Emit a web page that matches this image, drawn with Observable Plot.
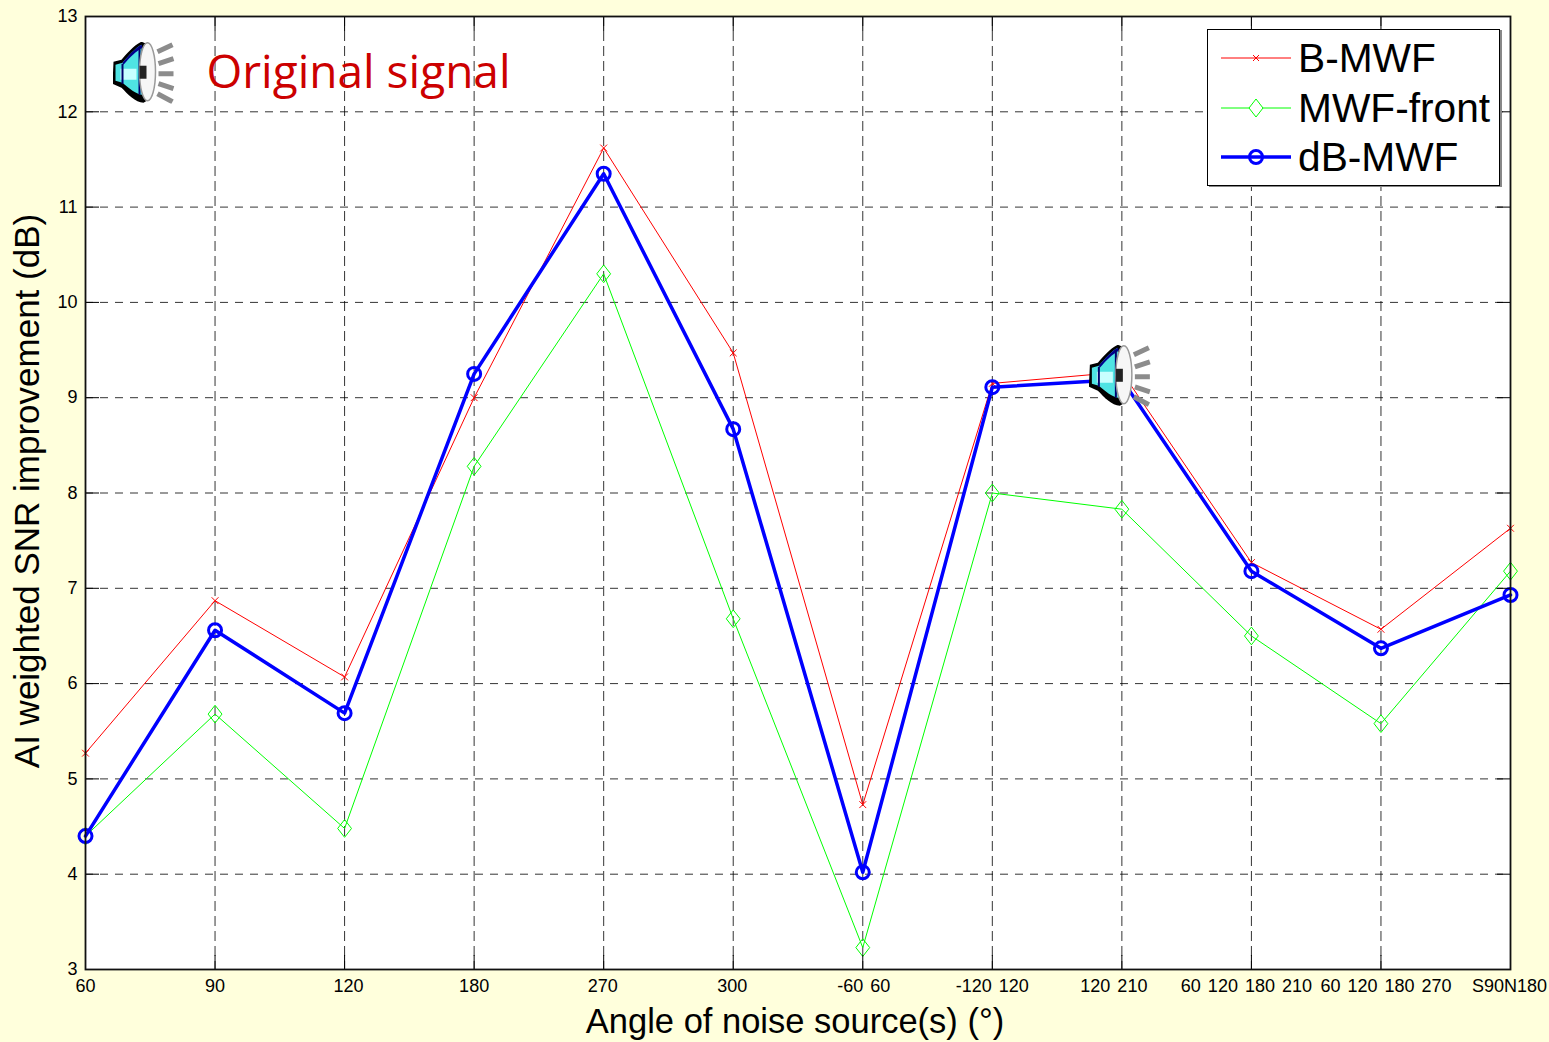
<!DOCTYPE html>
<html><head><meta charset="utf-8">
<script src="https://cdn.jsdelivr.net/npm/d3@7"></script>
<script src="https://cdn.jsdelivr.net/npm/@observablehq/plot@0.6"></script>
<style>
html,body{margin:0;padding:0;background:#ffffdc;width:1549px;height:1042px;overflow:hidden}
#wrap{position:relative;width:1549px;height:1042px}
#legend{position:absolute;left:1207px;top:29px;width:291px;height:155px;background:#fff;border:1.5px solid #000;box-shadow:2px 1px 0 #888;font-family:"Liberation Sans",Arial,sans-serif;font-size:40.7px;color:#000}
#legend .row{position:absolute;left:0;height:48px;display:flex;align-items:center}
#legend svg{display:block;margin-left:13px;margin-right:7px}
.xlab text{word-spacing:2px}
</style></head><body><div id="wrap"></div>
<script>
const angles = ["60","90","120","180","270","300","-60 60","-120 120","120 210","60 120 180 210","60 120 180 270","S90N180"];
const labelShift = [0,0,4,0,-1,-1,1,0,-8,-5,5,-1];
const yTicks = [3,4,5,6,7,8,9,10,11,12,13];
const bMwf = [5.27,6.87,6.07,9.0,11.62,9.47,4.73,9.15,9.27,7.27,6.57,7.63];
const mwfFront = [4.4,5.68,4.48,8.28,10.3,6.68,3.23,8.0,7.83,6.5,5.58,7.18];
const dbMwf = [4.4,6.56,5.69,9.25,11.35,8.67,4.02,9.11,9.19,7.18,6.37,6.93];
const seriesNames = ["B-MWF","MWF-front","dB-MWF"];
const speakerSpots = [{a:0.46,v:12.41},{a:8,v:9.23}];

const rows = (vals)=>angles.map((a,i)=>({a,i,v:vals[i]}));
const tallDiamond = {draw(c,s){const h=Math.sqrt(s);c.moveTo(0,-h*1.0);c.lineTo(h*0.78,0);c.lineTo(0,h*1.0);c.lineTo(-h*0.78,0);c.closePath();}};
const speakerSvg = `<svg xmlns="http://www.w3.org/2000/svg" viewBox="0 0 62 62">
<g fill="none" stroke="#8c8c8c" stroke-width="5"><path d="M45 10 L60 3"/><path d="M46 22 L61 17"/><path d="M46 32 H61"/><path d="M46 42 L61 47"/><path d="M45 52 L60 60"/></g>
<path d="M29 0 C22 3 14 12 9 18 L1 20 L0 42 L9 46 C15 52 23 61 31 61 L36 58 L34 2 Z" fill="#000"/>
<path d="M29 3 C23 6 16 14 10 21 L3 23 L3 39 L10 41 C16 46 24 53 30 53 Z" fill="#4fe3e3"/>
<path d="M10 21 C16 14 23 6 29 3 L30 6 C24 9 17 16 11 23 Z" fill="#00008c"/>
<path d="M8 27h16v11H8z" fill="#c8ffff"/>
<path d="M10 22v20M27 5v48" stroke="#00006c" stroke-width="2" fill="none"/>
<ellipse cx="35" cy="30" rx="8" ry="29" fill="#f6f6f6" stroke="#9a9a9a" stroke-width="1.5"/>
<rect x="27" y="24" width="7" height="13" fill="#222"/>
</svg>`;
const speakerUri = "data:image/svg+xml;charset=utf-8," + encodeURIComponent(speakerSvg);

const fontFamily = '"Liberation Sans", Arial, sans-serif';
const chart = Plot.plot({
  width:1549,height:1042,
  marginLeft:85,marginRight:39,marginTop:16,marginBottom:73,
  style:{background:"transparent",fontFamily,overflow:"visible"},
  x:{type:"point",domain:angles,padding:0,round:false,label:null},
  y:{domain:[3,13],label:null},
  marks:[
    Plot.frame({fill:"#fff",stroke:"none"}),
    Plot.ruleY(yTicks.slice(1,-1),{stroke:"#000",strokeWidth:1,strokeDasharray:"8,7",strokeOpacity:0.8}),
    Plot.ruleX(angles.slice(1,-1),{stroke:"#000",strokeWidth:1,strokeDasharray:"10,5",strokeOpacity:0.8}),
    Plot.line(rows(bMwf),{x:"a",y:"v",stroke:"#ff0000",strokeWidth:1}),
    Plot.dot(rows(bMwf),{x:"a",y:"v",symbol:"times",r:3.2,stroke:"#ff0000",strokeWidth:1}),
    Plot.line(rows(mwfFront),{x:"a",y:"v",stroke:"#00ff00",strokeWidth:1}),
    Plot.dot(rows(mwfFront),{x:"a",y:"v",symbol:tallDiamond,r:5,stroke:"#00ff00",strokeWidth:1,fill:"none"}),
    Plot.line(rows(dbMwf),{x:"a",y:"v",stroke:"#0000ff",strokeWidth:3.5}),
    Plot.dot(rows(dbMwf),{x:"a",y:"v",r:6.5,stroke:"#0000ff",strokeWidth:3,fill:"none"}),
    Plot.axisX({anchor:"bottom",tickSize:-14,tickFormat:()=>"",stroke:"#000"}),
    Plot.axisX({anchor:"top",tickSize:-14,tickFormat:()=>"",stroke:"#000"}),
    Plot.axisY({anchor:"left",ticks:yTicks,tickSize:-14,tickPadding:22,fontSize:18,tickFormat:d3.format("d"),color:"#000"}),
    Plot.axisY({anchor:"right",ticks:yTicks,tickSize:-14,tickFormat:()=>""}),
    Plot.frame({stroke:"#111",strokeWidth:1.8,fill:"none"}),
    ...angles.map((a,i)=>Plot.text([a],{x:()=>a,frameAnchor:"bottom",dx:labelShift[i],dy:22,fontSize:18,fill:"#000",className:"xlab"})),
    Plot.text(["Original signal"],{x:()=>"60",y:()=>12.41,dx:121,dy:1,fontSize:46,textAnchor:"start",fill:"#cc0000",fontFamily:'"Open Sans", sans-serif'}),
    Plot.text(["AI weighted SNR improvement (dB)"],{frameAnchor:"left",rotate:-90,dx:-58,dy:-2,fontSize:35,fill:"#000",textAnchor:"middle"}),
    Plot.text(["Angle of noise source(s) (°)"],{frameAnchor:"bottom",dx:-3,dy:63,fontSize:34.5,fill:"#000",textAnchor:"middle"}),
    Plot.image(speakerSpots.slice(1),{x:d=>angles[d.a],y:"v",dx:-2,src:()=>speakerUri,width:62,height:62}),
    Plot.image(speakerSpots.slice(0,1),{x:()=>"60",y:"v",dx:58,src:()=>speakerUri,width:62,height:62})
  ]
});
const wrap=document.getElementById("wrap");
wrap.appendChild(chart);

const legend=document.createElement("div");legend.id="legend";
const glyphs=[
 `<line x1="0" x2="70" y1="24" y2="24" stroke="#f00" stroke-width="1"/><path d="M32 21l6 6M38 21l-6 6" stroke="#f00" fill="none"/>`,
 `<line x1="0" x2="70" y1="24" y2="24" stroke="#0f0" stroke-width="1"/><path d="M35 15l7 9-7 9-7-9z" stroke="#0f0" fill="#fff"/>`,
 `<line x1="0" x2="70" y1="24" y2="24" stroke="#00f" stroke-width="3.5"/><circle cx="35" cy="24" r="6.5" stroke="#00f" stroke-width="3" fill="none"/>`
];
const tops=[4,54,103];
seriesNames.forEach((n,i)=>{
  const r=document.createElement("div");r.className="row";r.style.top=tops[i]+"px";
  r.innerHTML=`<svg width="70" height="48">${glyphs[i]}</svg><span>${n}</span>`;
  legend.appendChild(r);
});
wrap.appendChild(legend);
</script></body></html>
